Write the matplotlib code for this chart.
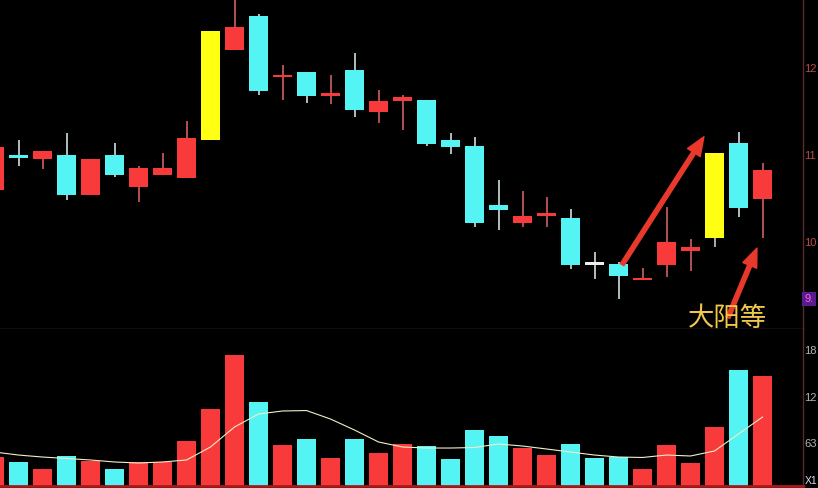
import numpy as np
import matplotlib.pyplot as plt
from matplotlib.patches import Rectangle, FancyArrowPatch

plt.rcParams['font.family'] = ['Noto Sans CJK SC', 'DejaVu Sans']

##################################################
##                 dados (K线)                  ##
##################################################

opens = [10.60, 11.00, 10.95, 11.00, 10.54, 11.00, 10.63, 10.77, 10.74, 11.17,
         12.21, 12.60, 11.90, 11.95, 11.68, 11.98, 11.49, 11.62, 11.63, 11.17,
         11.10, 10.43, 10.22, 10.30, 10.28, 9.74, 9.75, 9.56, 9.74, 9.90,
         10.05, 11.14, 10.49]
closes = [11.09, 10.97, 11.05, 10.54, 10.95, 10.77, 10.85, 10.85, 11.20, 12.43,
          12.47, 11.74, 11.92, 11.68, 11.71, 11.52, 11.62, 11.67, 11.13, 11.09,
          10.22, 10.37, 10.30, 10.33, 9.74, 9.74, 9.61, 9.59, 10.00, 9.94,
          11.02, 10.39, 10.83]
highs = [11.09, 11.17, 11.05, 11.25, 10.95, 11.14, 10.87, 11.02, 11.39, 12.43,
         12.80, 12.62, 12.03, 11.95, 11.92, 12.17, 11.75, 11.69, 11.63, 11.25,
         11.21, 10.71, 10.59, 10.52, 10.38, 9.89, 9.77, 9.70, 10.40, 10.03,
         11.02, 11.26, 10.91]
lows = [10.60, 10.87, 10.84, 10.48, 10.54, 10.75, 10.46, 10.77, 10.74, 11.17,
        12.21, 11.69, 11.63, 11.60, 11.59, 11.44, 11.37, 11.29, 11.10, 11.01,
        10.17, 10.14, 10.17, 10.17, 9.69, 9.57, 9.34, 9.56, 9.60, 9.67,
        9.94, 10.29, 10.05]

volumes = [44.4, 37.3, 28.2, 45.4, 38.6, 28.2, 36.9, 37.7, 66.1, 109.1,
           182.7, 118.6, 60.3, 68.4, 42.7, 68.4, 49.5, 61.7, 58.9, 41.3,
           80.6, 72.5, 56.6, 46.7, 61.7, 42.7, 44.0, 27.8, 60.3, 35.9,
           84.7, 161.9, 153.8]
vol_ma = [50.8, 46.7, 44.0, 42.0, 40.0, 37.3, 35.9, 37.3, 40.0, 57.6,
          84.7, 102.3, 106.4, 107.0, 95.5, 80.6, 64.4, 57.6, 56.2, 56.2,
          56.9, 61.7, 58.9, 54.9, 50.8, 46.7, 44.0, 43.4, 46.7, 45.4,
          52.2, 75.2, 98.2]

big_yang = [9, 30]   # velas destacadas em amarelo

price_ticks = [12, 11, 10]
price_tick_labels = ["12", "11", "10"]
vol_ticks = [189, 126, 63]
vol_tick_labels = ["18", "12", "63"]

##################################################
##                   figura                     ##
##################################################

W, H = 818, 488
x = np.arange(len(opens))

fig = plt.figure(figsize=(W / 100, H / 100), dpi=100, facecolor="black")
ax_p = fig.add_axes([0, (H - 329) / H, 803 / W, 329 / H], facecolor="black")
ax_v = fig.add_axes([0, 2 / H, 803 / W, (486 - 329) / H], facecolor="black")

RED = "#f83a3a"
CYAN = "#55f4f4"
YELLOW = "#ffff14"

for i in x:
    o, c, h, l = opens[i], closes[i], highs[i], lows[i]
    if i in big_yang:
        body, wick = YELLOW, "#d8d8d8"
    elif c > o:
        body, wick = RED, "#e06868"
    elif c < o:
        body, wick = CYAN, "#dff4f4"
    else:
        body, wick = "#eeeeee", "#eeeeee"
    ax_p.vlines(i, l, h, color=wick, lw=1.1, zorder=2)
    bottom = min(o, c)
    height = max(abs(c - o), 0.025)
    ax_p.add_patch(Rectangle((i - 0.4, bottom), 0.8, height,
                             facecolor=body, edgecolor="none", zorder=3))

vol_colors = [RED if c > o else CYAN for o, c in zip(opens, closes)]
ax_v.bar(x, volumes, width=0.8, color=vol_colors, zorder=2)
ax_v.plot(x, vol_ma, color="#f2eec8", lw=0.8, zorder=3)

# limites
xlim = (5.5 / 24, 808.5 / 24)
ax_p.set_xlim(xlim)
ax_v.set_xlim(xlim)
ax_p.set_ylim(9.0, 12.782)
ax_v.set_ylim(4.74, 217.5)

for ax in (ax_p, ax_v):
    ax.set_xticks([])
    ax.yaxis.tick_right()
    for s in ("left", "top"):
        ax.spines[s].set_visible(False)
    ax.spines["right"].set_color("#5a2c2c")
    ax.spines["right"].set_linewidth(1.0)

ax_p.spines["bottom"].set_color("#6a4040")
ax_p.spines["bottom"].set_linewidth(1.0)
ax_v.spines["bottom"].set_color("#a81a1a")
ax_v.spines["bottom"].set_linewidth(2.0)

ax_p.set_yticks(price_ticks)
ax_p.set_yticklabels(price_tick_labels)
ax_p.tick_params(axis="y", length=0, pad=1.0, labelsize=8, labelcolor="#b84c4c")
ax_v.set_yticks(vol_ticks)
ax_v.set_yticklabels(vol_tick_labels)
ax_v.tick_params(axis="y", length=0, pad=1.0, labelsize=8, labelcolor="#b4b4b4")
for t in ax_p.get_yticklabels() + ax_v.get_yticklabels():
    t.set_family("Liberation Sans")

# marcador de preço e unidade
fig.text(804.5 / W, 1 - 299 / H, "9.", color="#e868e8", fontsize=8, va="center",
         family="Liberation Sans",
         bbox=dict(facecolor="#5c1a8c", edgecolor="none", pad=1.5))
fig.text(804.5 / W, 1 - 481 / H, "X1", color="#d4dcf4", fontsize=7.5, va="center",
         family="Liberation Sans")

##################################################
##                  anotações                   ##
##################################################

arrows = [((26.15, 9.74), (29.56, 11.21)),
          ((30.56, 9.13), (31.77, 9.93))]
for a, b in arrows:
    ax_p.add_patch(FancyArrowPatch(
        a, b, arrowstyle="simple,head_length=0.75,head_width=0.6,tail_width=0.17",
        mutation_scale=18, color="#e8392c", shrinkA=0, shrinkB=0, zorder=5))

fig.text(727 / W, 1 - 318 / H, "大阳等", color="#f2c84c", fontsize=19,
         ha="center", va="center", zorder=10)

fig.savefig("out.png", dpi=100, facecolor="black")
